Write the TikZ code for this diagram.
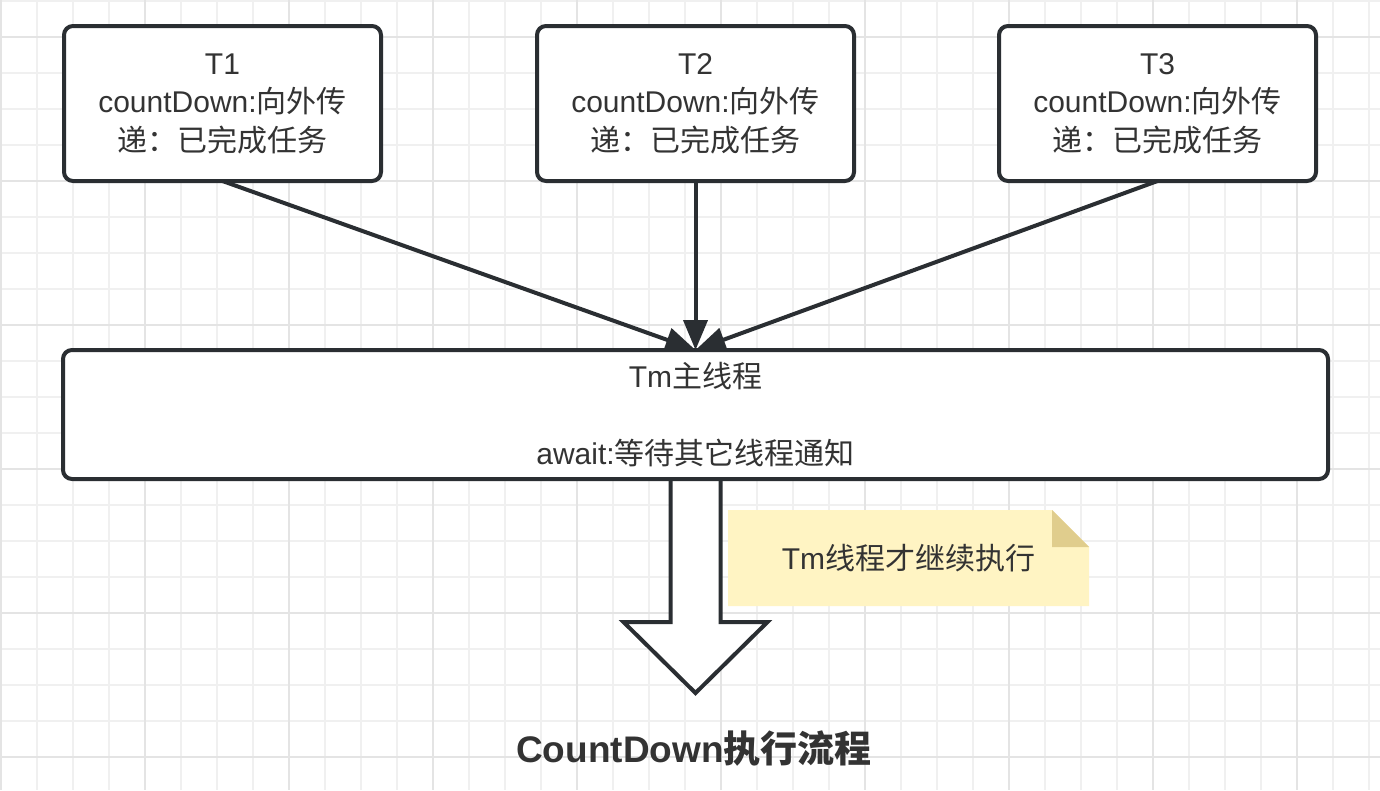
\documentclass[tikz,border=0pt]{standalone}
\usepackage{fontspec}
\setmainfont{Liberation Sans}
\newfontfamily\cjk{Noto Sans CJK SC}
\usetikzlibrary{arrows.meta,backgrounds}
\definecolor{strokec}{HTML}{2A2E32}
\definecolor{textc}{HTML}{333333}
\definecolor{gridminor}{HTML}{F0F0F0}
\definecolor{gridmajor}{HTML}{E4E4E4}
\definecolor{notefill}{HTML}{FFF4C3}
\definecolor{notefold}{HTML}{E0CD8D}
\begin{document}
\begin{tikzpicture}[x=1pt,y=-1pt,
  box/.style={draw=strokec, line width=4pt, rounded corners=9pt, fill=white, text=textc,
    align=center, font=\fontsize{30}{38.5}\selectfont, inner sep=0pt, outer sep=0pt},
  tbox/.style={box, minimum width=317pt, minimum height=155pt},
  conn/.style={draw=strokec, line width=4pt, -{Triangle[length=30pt,width=24pt]}},
  minorline/.style={draw=gridminor, line width=1.2pt},
  majorline/.style={draw=gridmajor, line width=1.4pt},
  notetext/.style={text=textc, font=\fontsize{30}{38.5}\selectfont, inner sep=0pt, outer sep=0pt,
    minimum width=361pt, minimum height=96pt},
  titletext/.style={text=textc, font=\bfseries\fontsize{37}{42}\selectfont, inner sep=0pt},
  bigarrow/.style={draw=strokec, line width=4pt, fill=white, line join=miter},
]
\useasboundingbox (0,0) rectangle (1380,790);

% nodes
\node[tbox] (T1) at (222.5,103.5) {T1\\countDown:{\cjk 向外传}\\{\cjk 递：已完成任务}};
\node[tbox] (T2) at (695.5,103.5) {T2\\countDown:{\cjk 向外传}\\{\cjk 递：已完成任务}};
\node[tbox] (T3) at (1157.5,103.5) {T3\\countDown:{\cjk 向外传}\\{\cjk 递：已完成任务}};
\node[box, minimum width=1265pt, minimum height=129pt] (Tm) at (695.5,414.5)
  {Tm{\cjk 主线程}\\\mbox{}\\await:{\cjk 等待其它线程通知}};
\node[notetext] (note) at (908.5,558) {Tm{\cjk 线程才继续执行}};
\node[titletext] (title) at (694,749) {CountDown{\cjk 执行流程}};

% connectors
\draw[conn] (T1.south) -- (Tm.north);
\draw[conn] (T2.south) -- (Tm.north);
\draw[conn] (T3.south) -- (Tm.north);

\begin{pgfonlayer}{background}
  \fill[white] (0,0) rectangle (1380,790);
  \foreach \i in {0,...,38} {\draw[minorline] ({1+36*\i},0) -- ({1+36*\i},790);}
  \foreach \j in {0,...,21} {\draw[minorline] (0,{1+36*\j}) -- (1380,{1+36*\j});}
  \foreach \k in {0,...,9} {\draw[majorline] ({1+144*\k},0) -- ({1+144*\k},790);}
  \foreach \k in {0,...,5} {\draw[majorline] (0,{37+144*\k}) -- (1380,{37+144*\k});}
  % big hollow arrow below Tm
  \coordinate (bs) at ([xshift=-25pt]Tm.south);
  \draw[bigarrow] (bs) -- ++(0,143) -- ++(-47,0) -- ++(72,71) -- ++(72,-71) -- ++(-47,0) -- ++(0,-143);
  % note shape
  \fill[notefill] (note.north west) -- ([xshift=-37pt]note.north east)
    -- ([yshift=-37pt]note.north east) -- (note.south east) -- (note.south west) -- cycle;
  \fill[notefold] ([xshift=-37pt]note.north east) -- ([xshift=-37pt,yshift=-37pt]note.north east)
    -- ([yshift=-37pt]note.north east) -- cycle;
\end{pgfonlayer}
\end{tikzpicture}
\end{document}
